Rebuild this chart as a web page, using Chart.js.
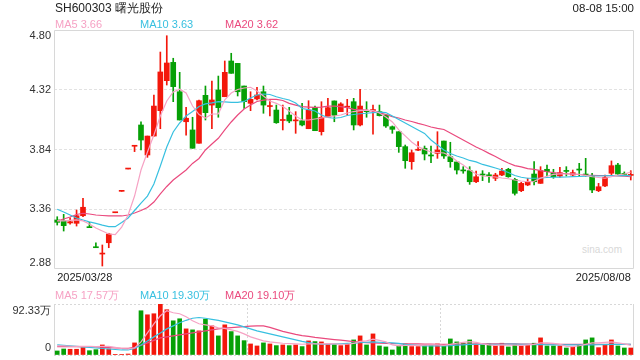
<!DOCTYPE html>
<html><head><meta charset="utf-8">
<script src="https://cdn.jsdelivr.net/npm/chart.js@4.4.1/dist/chart.umd.min.js"></script>
<style>
html,body{margin:0;padding:0;background:#fff;}
#wrap{position:relative;width:640px;height:360px;overflow:hidden;background:#fff;font-family:"Liberation Sans",Arial,sans-serif;}
.t{position:absolute;white-space:nowrap;line-height:16px;height:16px;}
canvas{position:absolute;left:0;}
</style></head><body>
<div id="wrap">
<div class="t" style="left:582px;top:242px;font-size:10px;color:#d8d8d8">sina.com</div>
<canvas id="price" width="640" height="290" style="top:0"></canvas>
<canvas id="vol" width="640" height="70" style="top:290px"></canvas>
<div class="t" style="left:55px;top:0;font-size:12px;color:#222">SH600303 曙光股份</div>
<div class="t" style="right:6px;top:0;font-size:11.5px;color:#222">08-08 15:00</div>
<div class="t" id="l5" style="left:55px;top:16px;font-size:11px"></div>
<div class="t" id="l10" style="left:140px;top:16px;font-size:11px"></div>
<div class="t" id="l20" style="left:225px;top:16px;font-size:11px"></div>
<div class="t" id="v5" style="left:55px;top:287px;font-size:11px"></div>
<div class="t" id="v10" style="left:140px;top:287px;font-size:11px"></div>
<div class="t" id="v20" style="left:225px;top:287px;font-size:11px"></div>
</div>
<script>
const dates = ['2025/03/28','2025/03/31',
'2025/04/01','2025/04/02','2025/04/03','2025/04/07','2025/04/08','2025/04/09','2025/04/10','2025/04/11',
'2025/04/14','2025/04/15','2025/04/16','2025/04/17','2025/04/18','2025/04/21','2025/04/22','2025/04/23','2025/04/24','2025/04/25',
'2025/04/28','2025/04/29','2025/04/30',
'2025/05/06','2025/05/07','2025/05/08','2025/05/09','2025/05/12','2025/05/13','2025/05/14','2025/05/15','2025/05/16',
'2025/05/19','2025/05/20','2025/05/21','2025/05/22','2025/05/23','2025/05/26','2025/05/27','2025/05/28','2025/05/29','2025/05/30',
'2025/06/03','2025/06/04','2025/06/05','2025/06/06','2025/06/09','2025/06/10','2025/06/11','2025/06/12','2025/06/13',
'2025/06/16','2025/06/17','2025/06/18','2025/06/19','2025/06/20','2025/06/23','2025/06/24','2025/06/25','2025/06/26','2025/06/27',
'2025/07/01','2025/07/02','2025/07/03','2025/07/04','2025/07/07','2025/07/08','2025/07/09','2025/07/10','2025/07/11',
'2025/07/14','2025/07/15','2025/07/16','2025/07/17','2025/07/18','2025/07/21','2025/07/22','2025/07/23','2025/07/24','2025/07/25',
'2025/07/28','2025/07/29','2025/07/30','2025/07/31','2025/08/01','2025/08/04','2025/08/05','2025/08/06','2025/08/07','2025/08/08'];

const opens = [3.274,3.268,3.250,3.247,3.308,3.214,3.053,3.000,3.091,3.332,
3.504,3.683,3.866,4.037,3.796,3.948,4.152,4.393,4.540,4.304,
4.063,3.997,3.890,4.275,4.197,4.318,4.264,4.551,4.532,4.350,
4.211,4.246,4.304,4.185,4.157,4.073,4.117,4.070,4.071,4.007,
4.179,3.983,4.099,4.230,4.144,4.180,4.224,4.037,4.148,4.153,
4.144,4.117,4.023,3.983,3.863,3.742,3.834,3.850,3.790,3.809,
3.908,3.782,3.740,3.672,3.670,3.581,3.637,3.632,3.609,3.635,
3.681,3.600,3.509,3.555,3.643,3.568,3.681,3.649,3.627,3.667,
3.635,3.677,3.640,3.627,3.509,3.547,3.649,3.715,3.645,3.632];
const highs = [3.300,3.319,3.292,3.354,3.448,3.255,3.091,3.073,3.167,3.332,
3.504,3.683,3.866,4.063,3.948,4.278,4.623,4.754,4.573,4.460,
4.179,4.099,4.238,4.350,4.390,4.430,4.551,4.613,4.532,4.350,
4.304,4.340,4.350,4.232,4.197,4.197,4.179,4.144,4.211,4.232,
4.189,4.224,4.251,4.230,4.216,4.243,4.251,4.324,4.224,4.197,
4.197,4.117,4.029,3.983,3.876,3.836,3.903,3.868,3.868,3.983,
3.908,3.898,3.740,3.702,3.702,3.667,3.670,3.654,3.649,3.689,
3.689,3.609,3.577,3.609,3.742,3.702,3.715,3.681,3.697,3.702,
3.675,3.729,3.769,3.649,3.568,3.635,3.748,3.729,3.660,3.670];
const lows = [3.233,3.185,3.240,3.225,3.300,3.212,3.051,2.904,3.051,3.332,
3.504,3.683,3.823,3.836,3.777,3.948,4.007,4.358,4.224,4.077,
3.956,3.850,3.890,4.077,4.007,4.099,4.264,4.452,4.270,4.171,
4.152,4.238,4.131,4.109,4.050,3.997,4.055,3.970,4.029,4.007,
3.991,3.956,4.099,4.063,4.144,4.117,3.997,4.029,4.099,3.964,
4.109,4.018,3.970,3.817,3.689,3.681,3.830,3.756,3.734,3.769,
3.769,3.697,3.643,3.649,3.560,3.573,3.590,3.576,3.590,3.629,
3.617,3.474,3.501,3.549,3.555,3.568,3.627,3.609,3.617,3.627,
3.627,3.627,3.625,3.493,3.501,3.541,3.635,3.635,3.635,3.595];
const closes = [3.255,3.228,3.260,3.308,3.376,3.212,3.051,3.003,3.161,3.332,
3.504,3.683,3.866,3.916,3.948,4.189,4.463,4.535,4.345,4.077,
4.091,3.850,4.232,4.136,4.238,4.176,4.460,4.452,4.304,4.224,
4.243,4.278,4.197,4.189,4.055,4.080,4.069,4.077,4.037,4.157,
3.991,4.099,4.176,4.115,4.206,4.184,4.037,4.189,4.144,4.157,
4.112,4.029,4.002,3.863,3.750,3.814,3.836,3.804,3.788,3.836,
3.788,3.742,3.675,3.668,3.581,3.621,3.635,3.629,3.635,3.667,
3.621,3.488,3.568,3.581,3.581,3.670,3.662,3.621,3.654,3.664,
3.654,3.675,3.635,3.515,3.541,3.617,3.710,3.643,3.640,3.637];

const ma5 = [3.266,3.266,3.270,3.274,3.266,3.241,3.209,3.185,3.161,3.157,
3.217,3.314,3.466,3.675,3.820,3.956,4.109,4.230,4.302,4.324,
4.294,4.189,4.121,4.093,4.125,4.125,4.238,4.294,4.322,4.334,
4.340,4.310,4.270,4.230,4.211,4.185,4.149,4.109,4.077,4.077,
4.085,4.093,4.101,4.109,4.117,4.133,4.145,4.153,4.157,4.153,
4.133,4.101,4.061,3.997,3.949,3.900,3.863,3.840,3.820,3.816,
3.812,3.788,3.748,3.716,3.675,3.643,3.627,3.623,3.619,3.611,
3.605,3.595,3.587,3.581,3.585,3.610,3.625,3.640,3.643,3.643,
3.643,3.641,3.631,3.621,3.615,3.609,3.621,3.635,3.643,3.659];
const ma10 = [3.360,3.338,3.314,3.290,3.274,3.258,3.247,3.233,3.221,3.220,
3.254,3.290,3.350,3.410,3.466,3.563,3.707,3.860,3.981,4.053,
4.109,4.145,4.185,4.206,4.214,4.224,4.222,4.218,4.218,4.226,
4.254,4.278,4.286,4.282,4.264,4.250,4.238,4.214,4.169,4.161,
4.149,4.117,4.097,4.091,4.097,4.113,4.121,4.127,4.131,4.137,
4.141,4.137,4.109,4.081,4.053,4.025,3.997,3.969,3.916,3.876,
3.836,3.808,3.788,3.772,3.752,3.740,3.720,3.707,3.691,3.675,
3.655,3.631,3.617,3.609,3.609,3.611,3.615,3.617,3.618,3.619,
3.622,3.623,3.626,3.627,3.627,3.629,3.630,3.630,3.630,3.630];
const ma20 = [3.266,3.282,3.298,3.318,3.328,3.322,3.314,3.310,3.306,3.306,
3.306,3.314,3.330,3.350,3.374,3.418,3.483,3.543,3.595,3.635,
3.675,3.728,3.768,3.836,3.884,3.930,3.997,4.061,4.117,4.165,
4.197,4.226,4.236,4.243,4.243,4.234,4.211,4.197,4.184,4.181,
4.179,4.181,4.189,4.188,4.184,4.177,4.163,4.161,4.157,4.147,
4.136,4.121,4.104,4.093,4.077,4.065,4.050,4.037,4.021,4.010,
4.001,3.973,3.944,3.916,3.888,3.860,3.836,3.809,3.784,3.756,
3.732,3.711,3.701,3.687,3.681,3.671,3.661,3.654,3.649,3.645,
3.642,3.639,3.635,3.633,3.631,3.630,3.629,3.627,3.625,3.621];

// volume in 万 (10k shares)
const volumes = [7.3,10.9,10.4,10.4,13.3,7.8,9.7,18.2,10.9,0.6,
0.6,1.8,21.9,80.1,72.8,74.7,92.33,82,61.9,65.6,
47.3,45.5,43.7,65,52.8,34.6,54.6,42.4,34.6,26,
20,16.4,21.9,20,17,18.2,17,18.2,15.2,25.5,
24.3,23.7,20,18.8,17,19.4,27.3,34.6,18.2,38.2,
16.4,14.6,9.1,16.4,20,15.2,15.2,17.6,17.6,20,
16.4,29.1,23.7,21.3,27.3,18.2,18.2,20,17,21.3,
14.6,19.4,16.4,18.2,21.3,31,16.4,16.4,16.4,12.7,
14.6,18.2,27.3,31,13.3,18.2,27.3,16.4,12.7,12.7];
const volMa5 = [16.4,16.4,15.8,15.5,15.5,15.5,15.1,15.8,15.5,13.7,
11.8,10.9,12.7,23.7,40,56.5,71,80.1,76.5,74.7,
69.2,61.9,56.5,54.6,52.8,49.2,48.3,45.5,42.8,38.2,
32.8,29.1,25.5,23.7,22.4,21.3,20.6,20,19.5,20,
20,20,20.6,20,19.5,19.5,20.9,24.6,25.5,28.6,
26.4,23.7,18.2,16.4,17.3,17.3,17.3,17.7,18.2,18.2,
17.3,19.1,21.3,22.8,24.2,22.8,20,18.2,17.3,18.2,
17.7,17.7,17.3,18.2,19.1,21.9,21.9,20.9,19.1,15.5,
15.1,16.8,19.1,21.9,21.9,22.8,23.7,21.9,20,17.57];
const volMa10 = [18.2,17.3,16.4,15.5,14.6,13.7,12.7,11.8,10.9,10,
9.1,9.1,11.8,18.2,25.5,32.8,40,47.3,52.8,58.3,
62.8,66.5,67.9,66.5,64.6,62.8,60.1,57.4,54.6,51,
47.3,43.7,41,38.2,35.5,32.8,30,27.3,24.6,22.4,
20.6,19.5,19.5,20,20.4,20.9,21.3,22.2,23.1,23.7,
23.1,22.4,21.9,20.9,19.1,18.2,17.3,16.4,16.4,16.4,
16.4,16.9,17.7,18.2,19.1,19.5,19.5,19.5,19.5,19.5,
19.7,19.7,19.5,19.1,18.8,18.8,18.6,18.2,18.2,18.2,
18.2,18.2,18.2,18.2,18.6,18.8,19.1,19.1,19.3,19.3];
const volMa20 = [15.1,15.1,15.1,15.1,15.1,14.9,14.6,14,13.3,12.7,
12.2,12.2,13.7,17.3,21.9,26.4,31,32.8,34.6,36.4,
38.2,40,41.9,43.7,45.5,47.3,48.6,49.7,50.6,51.5,
52.3,52.8,52.8,50.1,46.4,42.8,40,37.3,35.1,33.7,
31.9,30.4,29.1,27.9,26.8,25.5,24.2,23.3,22.4,21.9,
21.3,20.9,20.6,20.4,20.2,20,20,19.8,19.7,19.5,
19.3,19.3,19.5,19.7,19.8,20,20,20,20,20,
20,20,19.8,19.7,19.7,19.8,19.8,19.7,19.5,19.3,
19.1,19.1,19.3,19.5,19.5,19.5,19.5,19.3,19.1,19.1];

const priceTicks = [2.88, 3.36, 3.84, 4.32, 4.80];
const volTicks = [0, 92.33];

const RED = '#f3170b', GREEN = '#06a006';
const C5 = '#f6a2c4', C10 = '#38c0e0', C20 = '#ea4a7e';
const FONT = "'Liberation Sans', Arial, sans-serif";
Chart.defaults.font.family = FONT;

const candleColors = opens.map((o, i) => closes[i] >= o ? RED : GREEN);
const last = a => a[a.length - 1];

function setLegend(id, txt, color) { const e = document.getElementById(id); e.textContent = txt; e.style.color = color; }
setLegend('l5', 'MA5 ' + last(ma5).toFixed(2), C5);
setLegend('l10', 'MA10 ' + last(ma10).toFixed(2), C10);
setLegend('l20', 'MA20 ' + last(ma20).toFixed(2), C20);
setLegend('v5', 'MA5 ' + last(volMa5).toFixed(2) + '万', C5);
setLegend('v10', 'MA10 ' + last(volMa10).toFixed(2) + '万', C10);
setLegend('v20', 'MA20 ' + last(volMa20).toFixed(2) + '万', C20);

const frame = {
  id: 'frame',
  beforeDatasetsDraw(chart, args, opts) {
    const { ctx, chartArea: a } = chart;
    ctx.save();
    ctx.strokeStyle = '#d8d8d8';
    ctx.lineWidth = 1;
    ctx.beginPath();
    if (opts.box) {
      ctx.rect(a.left + 0.5, a.top + 0.5, a.right - a.left - 1, a.bottom - a.top - 1);
    } else {
      ctx.moveTo(a.left + 0.5, a.top); ctx.lineTo(a.left + 0.5, a.bottom);
      ctx.moveTo(a.right - 0.5, a.top); ctx.lineTo(a.right - 0.5, a.bottom);
    }
    ctx.stroke();
    ctx.restore();
  }
};

const fixY = s => { s.width = 54; s.paddingTop = 0; s.paddingBottom = 0; };

const lineDs = (label, data, color) => ({
  type: 'line', label, data, borderColor: color, borderWidth: 1.2,
  pointRadius: 0, tension: 0, fill: false, order: 0
});

new Chart(document.getElementById('price'), {
  type: 'bar',
  data: {
    labels: dates,
    datasets: [
      { label: 'wick', data: lows.map((l, i) => [l, highs[i]]), backgroundColor: candleColors,
        barThickness: 1, grouped: false, order: 2 },
      { label: 'body', data: opens.map((o, i) => [o, closes[i]]), backgroundColor: candleColors,
        barThickness: 5, minBarLength: 1, grouped: false, order: 1 },
      lineDs('MA5', ma5, C5),
      lineDs('MA10', ma10, C10),
      lineDs('MA20', ma20, C20)
    ]
  },
  options: {
    responsive: false, animation: false,
    layout: { padding: { top: 30, right: 6, left: 0, bottom: 0 } },
    plugins: { legend: { display: false }, tooltip: { enabled: false }, frame: { box: true } },
    scales: {
      x: {
        type: 'category', offset: true,
        grid: { display: false, drawTicks: false }, border: { display: false },
        afterFit: s => { s.height = 21; s.paddingLeft = 0; s.paddingRight = 0; },
        ticks: { autoSkip: false, maxRotation: 0, minRotation: 0, align: 'inner', padding: 2,
          color: '#222', font: { size: 11 },
          callback: (v, i) => (i === 0 || i === dates.length - 1) ? dates[i] : '' }
      },
      y: {
        min: priceTicks[0], max: priceTicks[priceTicks.length - 1],
        afterBuildTicks: s => { s.ticks = priceTicks.map(v => ({ value: v })); },
        afterFit: fixY,
        grid: { drawTicks: false, lineWidth: 1,
          color: c => (c.index === 0 || c.index === priceTicks.length - 1) ? 'rgba(0,0,0,0)' : '#e2e2e2' },
        border: { display: false, dash: [3, 2] },
        ticks: { padding: 3, color: '#333', font: { size: 11, lineHeight: 1.1 },
          callback: (v, i) => {
            const s = Number(v).toFixed(2);
            if (i === 0) return [s, ''];
            if (i === priceTicks.length - 1) return ['', s];
            return s;
          } }
      }
    }
  },
  plugins: [frame]
});

new Chart(document.getElementById('vol'), {
  type: 'bar',
  data: {
    labels: dates,
    datasets: [
      { label: 'volume', data: volumes, backgroundColor: candleColors, barThickness: 4, order: 1 },
      lineDs('MA5', volMa5, C5),
      lineDs('MA10', volMa10, C10),
      lineDs('MA20', volMa20, C20)
    ]
  },
  options: {
    responsive: false, animation: false,
    layout: { padding: { top: 14, right: 6, left: 0, bottom: 5 } },
    plugins: { legend: { display: false }, tooltip: { enabled: false }, frame: { box: false } },
    scales: {
      x: {
        type: 'category', offset: true,
        grid: { offset: true, drawTicks: false,
          color: c => (c.index === 30 || c.index === 60) ? '#d8d8d8' : 'rgba(0,0,0,0)' },
        border: { display: false, dash: [2, 2] },
        ticks: { display: false },
        afterFit: s => { s.height = 0; s.paddingLeft = 0; s.paddingRight = 0; }
      },
      y: {
        min: volTicks[0], max: volTicks[1],
        afterBuildTicks: s => { s.ticks = volTicks.map(v => ({ value: v })); },
        afterFit: fixY,
        grid: { drawTicks: false, color: '#d8d8d8' },
        border: { display: false, dash: [2, 2] },
        ticks: { padding: 3, color: '#333', font: { size: 11, lineHeight: 1.2 },
          callback: (v, i) => i === 0 ? [String(v), ''] : ['', Number(v).toFixed(2) + '万'] }
      }
    }
  },
  plugins: [frame]
});
</script>
</body></html>
